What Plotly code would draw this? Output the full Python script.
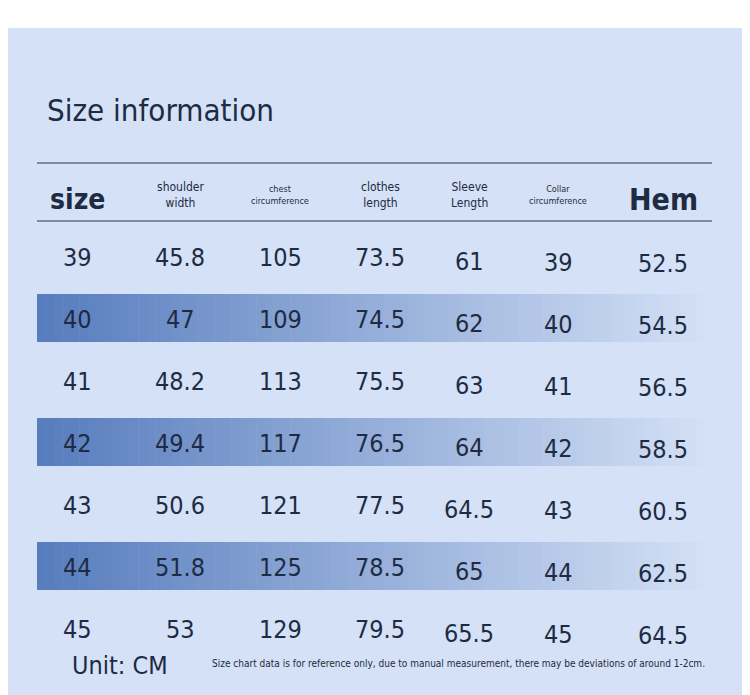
import plotly.graph_objects as go

sizes = ["39", "40", "41", "42", "43", "44", "45"]
shoulder = ["45.8", "47", "48.2", "49.4", "50.6", "51.8", "53"]
chest = ["105", "109", "113", "117", "121", "125", "129"]
length = ["73.5", "74.5", "75.5", "76.5", "77.5", "78.5", "79.5"]
sleeve = ["61", "62", "63", "64", "64.5", "65", "65.5"]
collar = ["39", "40", "41", "42", "43", "44", "45"]
hem = ["52.5", "54.5", "56.5", "58.5", "60.5", "62.5", "64.5"]
headers = ["size", "shoulder<br>width", "chest<br>circumference", "clothes<br>length",
           "Sleeve<br>Length", "Collar<br>circumference", "Hem"]

cols = [sizes, shoulder, chest, length, sleeve, collar, hem]
xs = [77, 180, 280, 380, 469, 558, 663]
yoff = [0, 0, 0, 0, 4, 5, 6]
hsize = [28, 12, 9, 12, 12, 9, 30]
FONT = "DejaVu Sans Condensed, Liberation Sans Narrow, Roboto, sans-serif"
INK = "#1e2b42"

fig = go.Figure()
shapes = [
    dict(type="rect", x0=-20, x1=770, y0=28, y1=720, fillcolor="#d4e1f6", line_width=0, layer="below"),
    dict(type="line", x0=37, x1=712, y0=163, y1=163, line=dict(color="#2a3448", width=1)),
    dict(type="line", x0=37, x1=712, y0=221, y1=221, line=dict(color="#2a3448", width=1)),
]
n = 80
c0 = (88, 125, 190); c1 = (212, 225, 246)
for r in (1, 3, 5):
    y0 = 294 + 124 * ((r - 1) // 2)
    for k in range(n):
        t = k / (n - 1)
        c = tuple(int(c0[j] + (c1[j] - c0[j]) * t) for j in range(3))
        shapes.append(dict(type="rect", x0=37 + 675 * k / n, x1=37 + 675 * (k + 1) / n + 0.5,
                           y0=y0, y1=y0 + 48, fillcolor="rgb(%d,%d,%d)" % c, line_width=0, layer="below"))

ann = [dict(x=45, y=110, text="Size information", font=dict(size=31, color=INK, family=FONT),
            xanchor="left", yanchor="middle", showarrow=False)]
for ci, h in enumerate(headers):
    ann.append(dict(x=xs[ci], y=195 if "<br>" in h else 199, text=("<b>%s</b>" % h) if "<br>" not in h else h,
                    font=dict(size=hsize[ci], color=INK, family=FONT), showarrow=False, yanchor="middle"))
for ci, col in enumerate(cols):
    for ri, v in enumerate(col):
        ann.append(dict(x=xs[ci], y=257 + 62 * ri + yoff[ci], text=v, showarrow=False, yanchor="middle",
                        font=dict(size=25, color=INK, family=FONT)))
ann.append(dict(x=70, y=665, text="Unit: CM", xanchor="left", showarrow=False, yanchor="middle",
                font=dict(size=25, color=INK, family=FONT)))
ann.append(dict(x=707, y=663, text="Size chart data is for reference only, due to manual measurement, there may be deviations of around 1-2cm.",
                xanchor="right", showarrow=False, yanchor="middle", font=dict(size=10, color=INK, family=FONT)))

fig.update_layout(width=750, height=695, margin=dict(l=0, r=0, t=0, b=0),
                  paper_bgcolor="white", plot_bgcolor="white", shapes=shapes, annotations=ann,
                  xaxis=dict(range=[8, 758], visible=False, fixedrange=True),
                  yaxis=dict(range=[703, 8], visible=False, fixedrange=True), showlegend=False)
fig.write_html("out.html")
